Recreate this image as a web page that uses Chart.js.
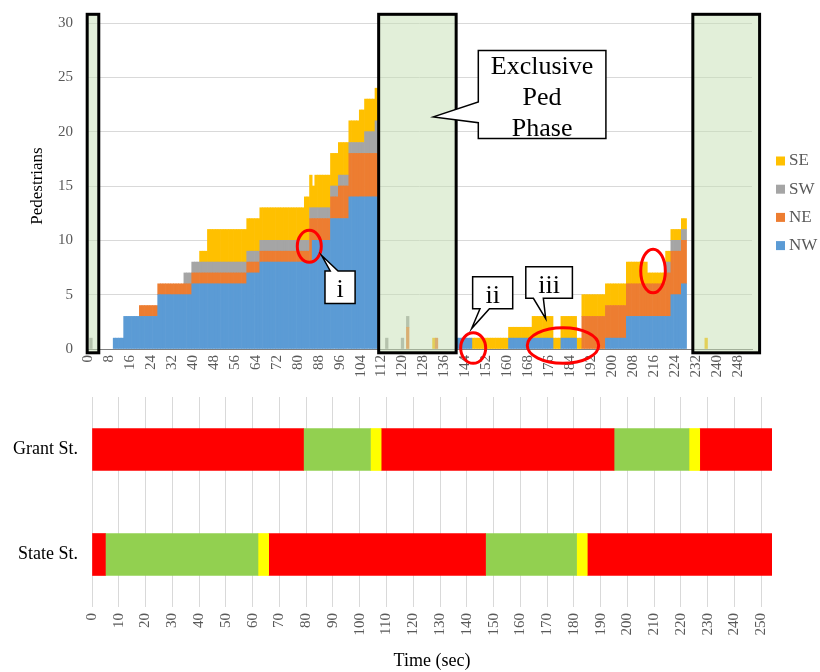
<!DOCTYPE html>
<html>
<head>
<meta charset="utf-8">
<script src="https://cdn.jsdelivr.net/npm/chart.js@4.4.1/dist/chart.umd.min.js"></script>
<style>
  html, body { margin: 0; padding: 0; background: #fff; }
  #wrap { position: relative; width: 820px; height: 672px; }
  #ped { position: absolute; left: 0; top: 0; }
  #sig { position: absolute; left: 0; top: 388px; }
</style>
</head>
<body>
<div id="wrap">
  <canvas id="ped" width="820" height="388" style="width:820px;height:388px"></canvas>
  <canvas id="sig" width="820" height="284" style="width:820px;height:284px"></canvas>
</div>
<script>
// ---------- Waiting pedestrians per second, by corner (seconds 0..253) ----------
const nw = [
  0,0,0,0,0,0,0,0,0,0,1,1,1,1,3,3,
  3,3,3,3,3,3,3,3,3,3,3,5,5,5,5,5,
  5,5,5,5,5,5,5,5,6,6,6,6,6,6,6,6,
  6,6,6,6,6,6,6,6,6,6,6,6,6,7,7,7,
  7,7,8,8,8,8,8,8,8,8,8,8,8,8,8,8,
  8,8,8,8,8,8,10,10,10,10,10,10,10,12,12,12,
  12,12,12,12,14,14,14,14,14,14,14,14,14,14,14,0,
  0,0,0,0,0,0,0,0,0,0,0,0,0,0,0,0,
  0,0,0,0,0,0,0,0,0,0,0,0,0,1,1,1,
  1,1,1,0,0,0,0,0,0,0,0,0,0,0,0,0,
  0,1,1,1,1,1,1,1,1,1,1,1,1,1,1,1,
  1,1,0,0,0,1,1,1,1,1,1,0,0,0,0,0,
  0,0,0,0,0,0,1,1,1,1,1,1,1,1,3,3,
  3,3,3,3,3,3,3,3,3,3,3,3,3,3,3,5,
  5,5,5,6,6,0,0,0,0,0,0,0,0,0,0,0,
  0,0,0,0,0,0,0,0,0,0,0,0,0,0
];
const ne = [
  0,0,0,0,0,0,0,0,0,0,0,0,0,0,0,0,
  0,0,0,0,1,1,1,1,1,1,1,1,1,1,1,1,
  1,1,1,1,1,1,1,1,1,1,1,1,1,1,1,1,
  1,1,1,1,1,1,1,1,1,1,1,1,1,1,1,1,
  1,1,1,1,1,1,1,1,1,1,1,1,1,1,1,1,
  1,1,1,1,1,4,2,2,2,2,2,2,2,2,2,2,
  3,3,3,3,4,4,4,4,4,4,4,4,4,4,4,0,
  0,0,0,0,0,0,0,0,0,0,2,0,0,0,0,0,
  0,0,0,0,0,1,0,0,0,0,0,0,0,0,0,0,
  0,0,0,0,0,0,0,0,0,0,0,0,0,0,0,0,
  0,0,0,0,0,0,0,0,0,0,0,0,0,0,0,0,
  0,0,0,0,0,0,0,0,0,0,0,0,0,3,3,3,
  3,3,3,3,3,3,3,3,3,3,3,3,3,3,3,3,
  3,3,3,3,3,3,3,3,3,3,3,3,3,4,4,4,
  4,4,4,4,4,0,0,0,0,0,0,0,0,0,0,0,
  0,0,0,0,0,0,0,0,0,0,0,0,0,0
];
const sw = [
  0,1,0,0,0,0,0,0,0,0,0,0,0,0,0,0,
  0,0,0,0,0,0,0,0,0,0,0,0,0,0,0,0,
  0,0,0,0,0,1,1,1,1,1,1,1,1,1,1,1,
  1,1,1,1,1,1,1,1,1,1,1,1,1,1,1,1,
  1,1,1,1,1,1,1,1,1,1,1,1,1,1,1,1,
  1,1,1,1,1,1,1,1,1,1,1,1,1,1,1,1,
  1,1,1,1,1,1,1,1,1,1,2,2,2,2,3,0,
  0,0,1,0,0,0,0,0,1,0,1,0,0,0,0,0,
  0,0,0,0,0,0,0,0,0,0,0,0,0,0,0,0,
  0,0,0,0,0,0,0,0,0,0,0,0,0,0,0,0,
  0,0,0,0,0,0,0,0,0,0,0,0,0,0,0,0,
  0,0,0,0,0,0,0,0,0,0,0,0,0,0,0,0,
  0,0,0,0,0,0,0,0,0,0,0,0,0,0,0,0,
  0,0,0,0,0,0,0,0,0,0,0,0,0,1,1,1,
  1,1,1,1,1,0,0,0,0,0,0,0,0,0,0,0,
  0,0,0,0,0,0,0,0,0,0,0,0,0,0
];
const se = [
  0,0,0,0,0,0,0,0,0,0,0,0,0,0,0,0,
  0,0,0,0,0,0,0,0,0,0,0,0,0,0,0,0,
  0,0,0,0,0,0,0,0,0,0,0,1,1,1,3,3,
  3,3,3,3,3,3,3,3,3,3,3,3,3,3,3,3,
  3,3,3,3,3,3,3,3,3,3,3,3,3,3,3,3,
  3,3,3,4,4,3,2,3,3,3,3,3,3,3,3,3,
  3,3,3,3,2,2,2,2,3,3,3,3,3,3,3,0,
  0,0,0,0,0,0,0,0,0,0,0,0,0,0,0,0,
  0,0,0,0,1,0,0,0,0,0,0,0,0,0,0,0,
  0,0,0,1,1,1,1,1,1,1,1,1,1,1,1,1,
  1,1,1,1,1,1,1,1,1,1,2,2,2,2,2,2,
  2,2,1,1,1,2,2,2,2,2,2,1,1,2,2,2,
  2,2,2,2,2,2,2,2,2,2,2,2,2,2,2,2,
  2,2,2,2,2,2,1,1,1,1,1,1,1,1,1,1,
  1,1,1,1,1,0,0,0,0,0,0,0,1,0,0,0,
  0,0,0,0,0,0,0,0,0,0,0,0,0,0
];
const seconds = nw.map((_, i) => String(i));   // one category per second
const labelEvery = 8;                            // tick label spacing (s)
const yTicks = [0, 5, 10, 15, 20, 25, 30];

// Exclusive pedestrian phases: [start, end] in seconds
const pedPhases = [[0.07, 4.5], [111.4, 141.0], [231.4, 256.9]];

// ---------- Signal timing (phase change instants, s) ----------
const approaches   = ['Grant St.', 'State St.'];
const grantChanges = [0, 79, 104, 108, 195, 223, 227, 254];
const grantLights  = ['R', 'G', 'Y', 'R', 'G', 'Y', 'R'];
const stateChanges = [0, 5, 62, 66, 147, 181, 185, 254];
const stateLights  = ['R', 'G', 'Y', 'R', 'G', 'Y', 'R'];
const lightColors  = { R: '#FF0000', G: '#92D050', Y: '#FFFF00' };

Chart.defaults.font.family = '"Liberation Serif", "Times New Roman", serif';
Chart.defaults.animation = false;

const SERIF = '"Liberation Serif", "Times New Roman", serif';

// callout shape with a wedge pointer on one edge
function drawCallout(ctx, c, x, y) {
  const L = x.getPixelForValue(c.box[0]), R = x.getPixelForValue(c.box[1]);
  const T = y.getPixelForValue(c.box[2]), B = y.getPixelForValue(c.box[3]);
  const tx = x.getPixelForValue(c.tip[0]), ty = y.getPixelForValue(c.tip[1]);
  ctx.beginPath();
  if (c.edge === 'left') {
    const b1 = y.getPixelForValue(c.base[0]), b2 = y.getPixelForValue(c.base[1]);
    ctx.moveTo(L, T); ctx.lineTo(R, T); ctx.lineTo(R, B); ctx.lineTo(L, B);
    ctx.lineTo(L, b2); ctx.lineTo(tx, ty); ctx.lineTo(L, b1);
  } else if (c.edge === 'top') {
    const b1 = x.getPixelForValue(c.base[0]), b2 = x.getPixelForValue(c.base[1]);
    ctx.moveTo(L, T); ctx.lineTo(b1, T); ctx.lineTo(tx, ty); ctx.lineTo(b2, T);
    ctx.lineTo(R, T); ctx.lineTo(R, B); ctx.lineTo(L, B);
  } else {
    const b1 = x.getPixelForValue(c.base[0]), b2 = x.getPixelForValue(c.base[1]);
    ctx.moveTo(L, T); ctx.lineTo(R, T); ctx.lineTo(R, B); ctx.lineTo(b2, B);
    ctx.lineTo(tx, ty); ctx.lineTo(b1, B); ctx.lineTo(L, B);
  }
  ctx.closePath();
  ctx.fillStyle = '#fff'; ctx.fill();
  ctx.lineWidth = 1.5; ctx.strokeStyle = '#000'; ctx.stroke();
  ctx.fillStyle = '#000';
  ctx.font = '26px ' + SERIF;
  ctx.textAlign = 'center'; ctx.textBaseline = 'alphabetic';
  c.text.forEach((t, i) => ctx.fillText(t, (L + R) / 2, T + c.firstBase + i * 31));
}

const callouts = [
  { text: ['Exclusive', 'Ped', 'Phase'], box: [148.96, 197.7, 27.48, 19.36], edge: 'left',
    base: [22.73, 20.82], tip: [131.8, 21.36], firstBase: 23.5 },
  { text: ['i'], box: [90.4, 101.9, 7.18, 4.18], edge: 'top', base: [92.4, 95.4], tip: [89.15, 8.6], firstBase: 26.5 },
  { text: ['ii'], box: [146.8, 162.1, 6.64, 3.70], edge: 'bottom', base: [149.6, 153.2], tip: [146.4, 1.88], firstBase: 26 },
  { text: ['iii'], box: [167.1, 184.9, 7.57, 4.66], edge: 'bottom', base: [170.0, 173.8], tip: [174.7, 2.79], firstBase: 26 }
];
// highlighted spots: [second index, pedestrians, rx px, ry px]
const marks = [[84.4, 9.45, 12, 16], [147.0, 0.09, 12.5, 15.3], [181.3, 0.32, 35.7, 17.8], [215.7, 7.18, 12.3, 21.8]];

const overlay = {
  id: 'pedOverlay',
  afterDatasetsDraw(chart) {
    const { ctx, scales: { x, y }, chartArea } = chart;
    ctx.save();
    pedPhases.forEach(([s, e]) => {
      const x1 = x.getPixelForValue(s - 0.5), x2 = x.getPixelForValue(e - 0.5);
      const y1 = y.getPixelForValue(30.8), y2 = y.getPixelForValue(-0.35);
      ctx.fillStyle = 'rgba(197,224,180,0.5)';
      ctx.fillRect(x1, y1, x2 - x1, y2 - y1);
      ctx.lineWidth = 3; ctx.strokeStyle = '#000';
      ctx.strokeRect(x1, y1, x2 - x1, y2 - y1);
    });
    ctx.strokeStyle = '#FF0000'; ctx.lineWidth = 3;
    marks.forEach(([i, v, rx, ry]) => {
      ctx.beginPath();
      ctx.ellipse(x.getPixelForValue(i), y.getPixelForValue(v), rx, ry, 0, 0, Math.PI * 2);
      ctx.stroke();
    });
    callouts.forEach(c => drawCallout(ctx, c, x, y));
    // legend, listed top-down in reverse stacking order
    const items = chart.data.datasets.slice().reverse();
    ctx.font = '17px ' + SERIF; ctx.textAlign = 'left'; ctx.textBaseline = 'middle';
    items.forEach((d, k) => {
      const cy = chartArea.top + 138 + k * 28.2;
      ctx.fillStyle = d.backgroundColor;
      ctx.fillRect(chartArea.right + 24, cy - 4.5, 9, 9);
      ctx.fillStyle = '#595959';
      ctx.fillText(d.label, chartArea.right + 37, cy);
    });
    ctx.restore();
  }
};

const series = [
  { label: 'NW', values: nw, color: '#5B9BD5' },
  { label: 'NE', values: ne, color: '#ED7D31' },
  { label: 'SW', values: sw, color: '#A5A5A5' },
  { label: 'SE', values: se, color: '#FFC000' }
];

new Chart(document.getElementById('ped'), {
  type: 'bar',
  data: {
    labels: seconds,
    datasets: series.map(s => ({
      label: s.label,
      data: s.values.map(v => (v === 0 ? null : v)),
      backgroundColor: s.color,
      borderWidth: 0,
      barPercentage: 1,
      categoryPercentage: 1
    }))
  },
  options: {
    responsive: false,
    events: [],
    layout: { padding: { left: 20, right: 68, top: 19, bottom: 0 } },
    plugins: { legend: { display: false }, tooltip: { enabled: false } },
    scales: {
      x: {
        stacked: true,
        grid: { display: false, drawTicks: false },
        border: { display: true, color: '#7f7f7f', width: 1 },
        ticks: {
          autoSkip: false, minRotation: 90, maxRotation: 90, padding: 6,
          color: '#595959', font: { size: 15 },
          callback: (v, i) => (i % labelEvery === 0 ? seconds[i] : '')
        },
        afterFit: s => { s.height = 39; }
      },
      y: {
        stacked: true, min: 0, max: 30,
        grid: { color: '#d9d9d9', drawTicks: false },
        border: { display: false },
        afterBuildTicks: s => { s.ticks = yTicks.map(v => ({ value: v })); },
        ticks: { padding: 14, color: '#595959', font: { size: 15 } },
        title: { display: true, text: 'Pedestrians', color: '#000', font: { size: 17 }, padding: { top: 7, bottom: 0 } },
        afterFit: s => { s.width = 67; }
      }
    }
  },
  plugins: [overlay]
});

// ---------- Signal phase bars ----------
const sigDatasets = [];
[[grantChanges, grantLights], [stateChanges, stateLights]].forEach(([chg, lights], row) => {
  lights.forEach((l, k) => {
    const seg = [chg[k], chg[k + 1]];
    sigDatasets.push({
      data: row === 0 ? [seg, null] : [null, seg],
      backgroundColor: lightColors[l],
      borderWidth: 0,
      grouped: false,
      barThickness: 42
    });
  });
});

new Chart(document.getElementById('sig'), {
  type: 'bar',
  data: { labels: approaches, datasets: sigDatasets },
  options: {
    indexAxis: 'y',
    responsive: false,
    events: [],
    layout: { padding: { left: 0, right: 48, top: 9, bottom: 0 } },
    plugins: { legend: { display: false }, tooltip: { enabled: false } },
    scales: {
      x: {
        type: 'linear', min: 0, max: 254,
        grid: { color: '#d9d9d9', drawTicks: false },
        border: { display: false },
        ticks: { stepSize: 10, includeBounds: false, minRotation: 90, maxRotation: 90, padding: 6,
                 color: '#595959', font: { size: 15 } },
        title: { display: true, text: 'Time (sec)', color: '#000', font: { size: 18 }, padding: { top: 0, bottom: 0 } },
        afterFit: s => { s.height = 65; }
      },
      y: {
        grid: { display: false, drawTicks: false },
        border: { display: false },
        ticks: { padding: 14, color: '#000', font: { size: 18 } },
        afterFit: s => { s.width = 92; s.paddingTop = 0; s.paddingBottom = 0; }
      }
    }
  }
});
</script>
</body>
</html>
